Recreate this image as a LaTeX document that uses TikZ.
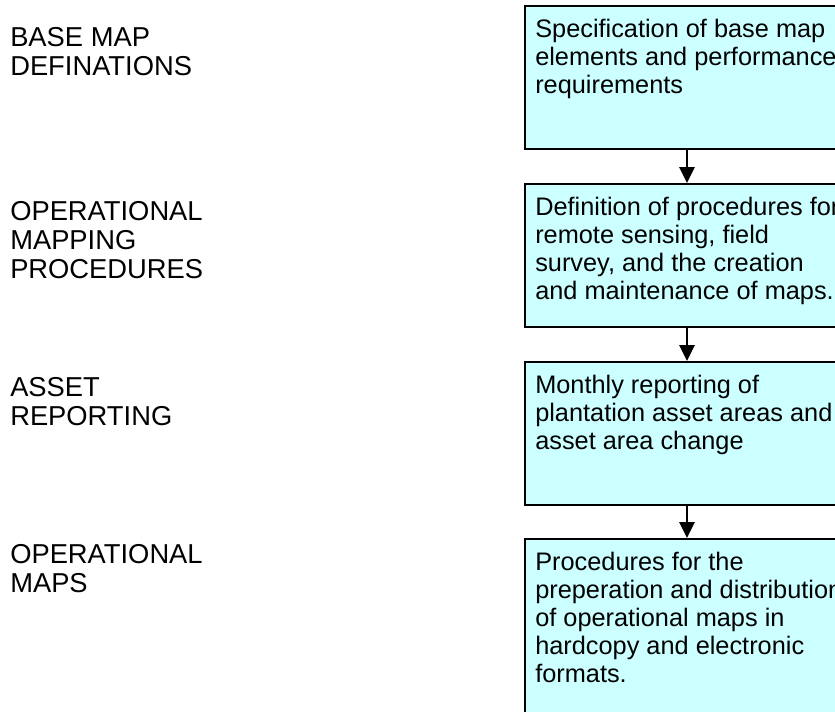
\documentclass[tikz,border=0pt]{standalone}
\usepackage{fontspec}
\setmainfont{Liberation Sans}
\usetikzlibrary{arrows.meta}

\begin{document}
\begin{tikzpicture}[x=0.75pt, y=-0.75pt]
  \definecolor{lightcyan}{RGB}{204,255,255}
  \tikzset{
    stepbox/.style={draw=black, fill=lightcyan, line width=1.5pt, inner sep=0pt,
      anchor=north west, minimum width=243pt, minimum height=107pt},
    boxtext/.style={anchor=base west, align=left, inner sep=0pt,
      font=\fontsize{19}{21}\selectfont},
    sidetext/.style={anchor=base west, align=left, inner sep=0pt,
      font=\fontsize{20.5}{21.75}\selectfont},
    flow/.style={-{Triangle[length=12pt, width=11.5pt]}, line width=1.5pt}
  }
  \useasboundingbox (0,0) rectangle (835,711);
  \clip (0,0) rectangle (835,711);
  \node[stepbox] (b1) at (524,5) {};
  \node[stepbox] (b2) at (524,183) {};
  \node[stepbox] (b3) at (524,361) {};
  \node[stepbox, minimum height=150pt] (b4) at (524,538) {};
  \draw[flow] (b1.south) -- (b2.north);
  \draw[flow] (b2.south) -- (b3.north);
  \draw[flow] (b3.south) -- (b4.north);
  \node[boxtext] (t1) at (535,93) {Specification of base map\\elements and performance\\requirements};
  \node[boxtext] (t2) at (535,299) {Definition of procedures for\\remote sensing, field\\survey, and the creation\\and maintenance of maps.};
  \node[boxtext] (t3) at (535,449) {Monthly reporting of\\plantation asset areas and\\asset area change};
  \node[boxtext] (t4) at (535,682) {Procedures for the\\preperation and distribution\\of operational maps in\\hardcopy and electronic\\formats.};
  \node[sidetext] (s1) at (10,75) {BASE MAP\\DEFINATIONS};
  \node[sidetext] (s2) at (10,278) {OPERATIONAL\\MAPPING\\PROCEDURES};
  \node[sidetext] (s3) at (10,425) {ASSET\\REPORTING};
  \node[sidetext] (s4) at (10,592) {OPERATIONAL\\MAPS};
\end{tikzpicture}
\end{document}
